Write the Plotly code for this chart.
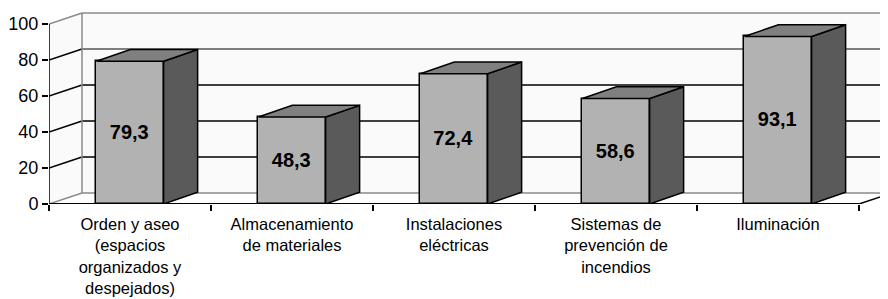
import plotly.graph_objects as go

categories = [
    "Orden y aseo<br>(espacios<br>organizados y<br>despejados)",
    "Almacenamiento<br>de materiales",
    "Instalaciones<br>eléctricas",
    "Sistemas de<br>prevención de<br>incendios",
    "Iluminación",
]
values = [79.3, 48.3, 72.4, 58.6, 93.1]
y_ticks = [0, 20, 40, 60, 80, 100]

# geometry (page has an 8px body margin, so the figure is sized to fit the window)
W, H = 880, 291
ML, MR, MT, MB = 41, 0, 2, 95
px_per_cat = 162.0
px_per_unit = 1.8
plot_w = W - ML - MR
plot_h = H - MT - MB
x0 = -0.5
x_max = x0 + plot_w / px_per_cat
y_max = plot_h / px_per_unit

dxw = 33 / px_per_cat
dyw = 11 / px_per_unit
dxb = 34 / px_per_cat
dyb = 11.7 / px_per_unit
bw = 0.415
n = len(values)
x_end = x0 + n

FONT = "Liberation Sans, Arial, sans-serif"
wall_fill = "#fafafa"
edge_gray = "#8a8a8a"

shapes = []
# side (left) wall
shapes.append(dict(type="path", layer="below",
                   path=f"M {x0},0 L {x0+dxw},{dyw} L {x0+dxw},{100+dyw} L {x0},{100} Z",
                   fillcolor=wall_fill, line=dict(width=0)))
# back wall
shapes.append(dict(type="path", layer="below",
                   path=f"M {x0+dxw},{dyw} L {x_max},{dyw} L {x_max},{100+dyw} L {x0+dxw},{100+dyw} Z",
                   fillcolor=wall_fill, line=dict(width=0)))
# floor
shapes.append(dict(type="path", layer="below",
                   path=f"M {x0},0 L {x_end},0 L {x_end+dxw},{dyw} L {x0+dxw},{dyw} Z",
                   fillcolor="#ffffff", line=dict(width=0)))

for t in y_ticks:
    if t in (0, 100):
        c_side, c_back, wdt = edge_gray, edge_gray, 1.5
    else:
        c_side, c_back, wdt = "#000000", ("#555555" if t == 80 else "#000000"), 1.5
    shapes.append(dict(type="line", layer="below", x0=x0, y0=t, x1=x0+dxw, y1=t+dyw,
                       line=dict(color=c_side, width=wdt)))
    shapes.append(dict(type="line", layer="below", x0=x0+dxw, y0=t+dyw, x1=x_max, y1=t+dyw,
                       line=dict(color=c_back, width=wdt)))
# back wall left vertical edge
shapes.append(dict(type="line", layer="below", x0=x0+dxw, y0=dyw, x1=x0+dxw, y1=100+dyw,
                   line=dict(color=edge_gray, width=1.5)))
# front axis lines
shapes.append(dict(type="line", layer="above", x0=x0, y0=0, x1=x0, y1=100,
                   line=dict(color="#000000", width=1.5)))
shapes.append(dict(type="line", layer="above", x0=x0, y0=0, x1=x_end, y1=0,
                   line=dict(color="#000000", width=2)))
shapes.append(dict(type="line", layer="above", x0=x_end, y0=0, x1=x_end+dxw, y1=dyw,
                   line=dict(color="#000000", width=1.5)))

fig = go.Figure()
xs = list(range(n))
fig.add_trace(go.Bar(
    x=xs, y=values, width=bw,
    marker=dict(color="#b2b2b2", line=dict(color="#000000", width=1.5)),
    text=[f"{v:.1f}".replace(".", ",") for v in values],
    textposition="inside", insidetextanchor="middle",
    textfont=dict(family=FONT, size=20, color="#000000", weight="bold"),
    hoverinfo="skip", showlegend=False,
))

for xi, v in zip(xs, values):
    xr = xi + bw / 2
    xl = xi - bw / 2
    # side face
    fig.add_trace(go.Scatter(
        x=[xr, xr + dxb, xr + dxb, xr, xr], y=[0, dyb, v + dyb, v, 0],
        mode="lines", fill="toself", fillcolor="#5a5a5a",
        line=dict(color="#000000", width=1.5), hoverinfo="skip", showlegend=False))
    # top face
    fig.add_trace(go.Scatter(
        x=[xl, xr, xr + dxb, xl + dxb, xl], y=[v, v, v + dyb, v + dyb, v],
        mode="lines", fill="toself", fillcolor="#808080",
        line=dict(color="#000000", width=1.5), hoverinfo="skip", showlegend=False))

fig.update_layout(
    width=W, height=H,
    margin=dict(l=ML, r=MR, t=MT, b=MB, pad=0, autoexpand=False),
    paper_bgcolor="#ffffff", plot_bgcolor="rgba(0,0,0,0)",
    shapes=shapes,
    bargap=0,
    font=dict(family=FONT, size=17, color="#000000"),
    xaxis=dict(range=[x0, x_max], showgrid=False, zeroline=False, showline=False,
               automargin=False,
               tickmode="array", tickvals=xs, ticktext=categories,
               ticks="outside", ticklen=5, tickcolor="rgba(0,0,0,0)",
               tickfont=dict(family=FONT, size=16.5, color="#000000"),
               minor=dict(tickmode="array", tickvals=[x0 + i for i in range(n + 1)],
                          ticks="outside", ticklen=6, tickcolor="#000000", tickwidth=1.5,
                          showgrid=False),
               fixedrange=True),
    yaxis=dict(range=[0, y_max], showgrid=False, zeroline=False, showline=False,
               automargin=False,
               tickmode="array", tickvals=y_ticks, ticks="outside", ticklen=6,
               tickcolor="#000000", tickwidth=1.5,
               tickfont=dict(family=FONT, size=18, color="#000000"),
               fixedrange=True),
)

fig.write_html("out.html")
